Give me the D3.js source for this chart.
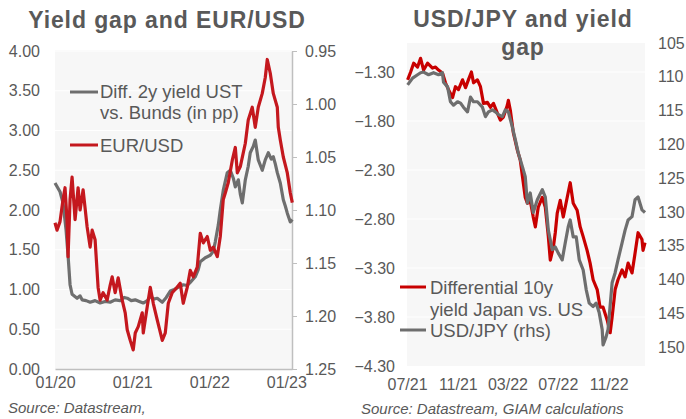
<!DOCTYPE html>
<html>
<head>
<meta charset="utf-8">
<script src="https://cdn.jsdelivr.net/npm/d3@7"></script>
<style>
	body { margin: 0; background: #fff; }
	text { font-family: "Liberation Sans", Arial, sans-serif; fill: #595959; }
	.title { font-weight: bold; font-size: 23px; letter-spacing: 0.9px; }
	.tick-label { font-size: 16px; }
	.legend { font-size: 18.5px; }
	.source { font-size: 15px; font-style: italic; }
</style>
</head>
<body>
<div id="chart"></div>
<script>
// Data - dates as decimal years
var gapDates = [2020.000, 2020.065, 2020.104, 2020.143, 2020.169, 2020.195, 2020.221, 2020.286, 2020.325, 2020.351,
	2020.403, 2020.455, 2020.519, 2020.584, 2020.649, 2020.714, 2020.779, 2020.844, 2020.896, 2020.935,
	2020.987, 2021.039, 2021.091, 2021.143, 2021.195, 2021.234, 2021.286, 2021.325, 2021.390, 2021.442,
	2021.494, 2021.545, 2021.584, 2021.662, 2021.714, 2021.753, 2021.818, 2021.857, 2021.883, 2021.948,
	2022.013, 2022.052, 2022.078, 2022.117, 2022.143, 2022.182, 2022.234, 2022.273, 2022.312, 2022.338,
	2022.377, 2022.403, 2022.429, 2022.468, 2022.506, 2022.532, 2022.571, 2022.597, 2022.636, 2022.688,
	2022.727, 2022.766, 2022.805, 2022.831, 2022.857, 2022.883, 2022.922, 2022.961, 2022.987, 2023.013,
	2023.052, 2023.078];
var gapValues = [2.34, 2.23, 2.09, 1.75, 1.43, 1.06, 0.94, 0.89, 0.92, 0.87,
	0.86, 0.84, 0.86, 0.83, 0.85, 0.84, 0.87, 0.86, 0.90, 0.89,
	0.86, 0.87, 0.85, 0.83, 0.86, 0.91, 0.88, 0.89, 0.84, 0.90,
	0.98, 1.00, 1.02, 1.06, 1.05, 1.09, 1.16, 1.25, 1.35, 1.40,
	1.43, 1.48, 1.60, 1.81, 2.00, 2.25, 2.47, 2.50, 2.40, 2.29,
	2.38, 2.20, 2.09, 2.38, 2.55, 2.72, 2.80, 2.88, 2.63, 2.50,
	2.63, 2.72, 2.64, 2.67, 2.58, 2.47, 2.34, 2.13, 2.05, 1.96,
	1.85, 1.88];

var eurDates = [2020.000, 2020.026, 2020.065, 2020.104, 2020.130, 2020.156, 2020.169, 2020.195, 2020.221, 2020.260,
	2020.299, 2020.325, 2020.364, 2020.416, 2020.455, 2020.481, 2020.519, 2020.558, 2020.584, 2020.623,
	2020.675, 2020.714, 2020.740, 2020.779, 2020.818, 2020.870, 2020.909, 2020.935, 2020.974, 2021.013,
	2021.039, 2021.078, 2021.130, 2021.143, 2021.195, 2021.234, 2021.273, 2021.325, 2021.390, 2021.429,
	2021.468, 2021.519, 2021.558, 2021.623, 2021.662, 2021.714, 2021.753, 2021.792, 2021.844, 2021.883,
	2021.922, 2021.974, 2022.013, 2022.052, 2022.104, 2022.143, 2022.182, 2022.208, 2022.247, 2022.299,
	2022.338, 2022.364, 2022.403, 2022.468, 2022.506, 2022.558, 2022.597, 2022.636, 2022.688, 2022.727,
	2022.753, 2022.792, 2022.831, 2022.883, 2022.896, 2022.922, 2022.961, 2023.013, 2023.052, 2023.078];
var eurValues = [1.112, 1.119, 1.111, 1.090, 1.079, 1.110, 1.144, 1.090, 1.069, 1.109,
	1.079, 1.100, 1.081, 1.116, 1.135, 1.119, 1.128, 1.173, 1.185, 1.178,
	1.185, 1.171, 1.163, 1.178, 1.164, 1.185, 1.197, 1.213, 1.223, 1.232,
	1.216, 1.210, 1.197, 1.216, 1.191, 1.173, 1.188, 1.204, 1.223, 1.216,
	1.188, 1.178, 1.175, 1.169, 1.188, 1.173, 1.157, 1.163, 1.154, 1.122,
	1.131, 1.125, 1.138, 1.135, 1.144, 1.125, 1.090, 1.084, 1.074, 1.053,
	1.041, 1.065, 1.059, 1.037, 1.015, 1.003, 1.022, 1.003, 0.990, 0.975,
	0.958, 0.971, 0.990, 1.003, 1.022, 1.034, 1.050, 1.065, 1.084, 1.093];

var jpDiffDates = [2021.500, 2021.520, 2021.540, 2021.566, 2021.586, 2021.606, 2021.632, 2021.665, 2021.685, 2021.705,
	2021.731, 2021.751, 2021.771, 2021.798, 2021.817, 2021.837, 2021.864, 2021.884, 2021.903, 2021.923,
	2021.937, 2021.963, 2021.983, 2022.003, 2022.029, 2022.049, 2022.069, 2022.095, 2022.115, 2022.135,
	2022.161, 2022.168, 2022.181, 2022.201, 2022.228, 2022.247, 2022.267, 2022.280, 2022.294, 2022.313,
	2022.333, 2022.347, 2022.366, 2022.393, 2022.413, 2022.433, 2022.446, 2022.466, 2022.479, 2022.492,
	2022.512, 2022.532, 2022.558, 2022.578, 2022.598, 2022.624, 2022.644, 2022.664, 2022.690, 2022.710,
	2022.730, 2022.757, 2022.776, 2022.796, 2022.823, 2022.843, 2022.856, 2022.876, 2022.895, 2022.922,
	2022.942, 2022.962, 2022.988, 2023.008, 2023.028, 2023.054, 2023.061, 2023.074];
var jpDiffValues = [-1.38, -1.30, -1.21, -1.25, -1.16, -1.28, -1.21, -1.26, -1.25, -1.28,
	-1.31, -1.41, -1.48, -1.56, -1.45, -1.48, -1.38, -1.46, -1.38, -1.30,
	-1.41, -1.38, -1.45, -1.62, -1.61, -1.66, -1.62, -1.72, -1.79, -1.76,
	-1.64, -1.59, -1.69, -1.92, -2.10, -2.20, -2.43, -2.58, -2.64, -2.61,
	-2.78, -2.88, -2.68, -2.58, -2.68, -2.98, -3.22, -3.09, -2.94, -2.74,
	-2.61, -2.78, -2.58, -2.43, -2.64, -2.71, -2.88, -2.98, -3.12, -3.25,
	-3.42, -3.52, -3.70, -3.70, -3.83, -3.96, -3.80, -3.52, -3.42, -3.32,
	-3.39, -3.25, -3.35, -3.15, -2.94, -3.01, -3.12, -3.04];

var jpyDates = [2021.500, 2021.533, 2021.566, 2021.586, 2021.606, 2021.639, 2021.672, 2021.705, 2021.731, 2021.738,
	2021.765, 2021.784, 2021.804, 2021.831, 2021.851, 2021.870, 2021.897, 2021.917, 2021.937, 2021.963,
	2021.996, 2022.016, 2022.036, 2022.062, 2022.082, 2022.102, 2022.128, 2022.148, 2022.168, 2022.194,
	2022.214, 2022.234, 2022.261, 2022.280, 2022.294, 2022.313, 2022.333, 2022.360, 2022.393, 2022.413,
	2022.433, 2022.459, 2022.479, 2022.499, 2022.525, 2022.545, 2022.565, 2022.578, 2022.598, 2022.618,
	2022.638, 2022.664, 2022.684, 2022.704, 2022.730, 2022.750, 2022.770, 2022.790, 2022.796, 2022.816,
	2022.829, 2022.856, 2022.876, 2022.895, 2022.922, 2022.942, 2022.962, 2022.988, 2023.008, 2023.028,
	2023.054, 2023.074];
var jpyValues = [111.2, 110.2, 109.7, 109.4, 109.3, 109.7, 109.4, 109.7, 109.4, 110.8,
	111.5, 113.7, 114.2, 113.7, 113.9, 114.5, 115.2, 113.0, 113.7, 113.7,
	114.5, 115.9, 115.2, 114.9, 115.2, 115.6, 115.9, 114.9, 115.2, 117.4,
	119.3, 121.3, 123.3, 124.8, 128.7, 127.2, 130.1, 128.2, 126.7, 127.8,
	132.7, 135.6, 135.2, 136.1, 137.1, 134.6, 132.2, 131.2, 133.7, 133.7,
	137.1, 138.6, 141.5, 143.5, 144.0, 143.5, 144.9, 147.4, 149.7, 148.5,
	147.4, 140.5, 139.0, 137.1, 134.6, 132.7, 131.2, 130.7, 128.2, 127.8,
	129.7, 130.1];

// Tick labels
var gapTicks = [0, 0.5, 1, 1.5, 2, 2.5, 3, 3.5, 4],
	eurTicks = [0.95, 1.00, 1.05, 1.10, 1.15, 1.20, 1.25],
	leftXTicks = ["2020-01-01", "2021-01-01", "2022-01-01", "2023-01-01"],
	jpDiffTicks = [-1.3, -1.8, -2.3, -2.8, -3.3, -3.8, -4.3],
	jpyTicks = [105, 110, 115, 120, 125, 130, 135, 140, 145, 150],
	rightXTicks = ["2021-07-01", "2021-11-01", "2022-03-01", "2022-07-01", "2022-11-01"];

var width = 686,
	height = 419,
	red1 = "#c4181e",
	red2 = "#c80000",
	grey = "#6e6e6e",
	svg = d3.select("#chart")
	.append("svg")
	.attr("width", width)
	.attr("height", height);

function yearToDate(t) {
	var y = Math.floor(t),
		start = new Date(y, 0, 1),
		end = new Date(y + 1, 0, 1);
	return new Date(+start + (t - y) * (end - start));
}
var parse = d3.timeParse("%Y-%m-%d");

function zip(dates, vals) {
	return dates.map(function(d, i) { return { date: yearToDate(d), v: vals[i] }; });
}

// strip d3's default font settings so the css applies
function styleAxis(g, keepDomain) {
	if (keepDomain) g.select(".domain").attr("stroke", "#bfbfbf").attr("stroke-width", 1.5);
	else g.select(".domain").remove();
	g.selectAll(".tick line").attr("stroke", "#bfbfbf");
	g.attr("font-size", null).attr("font-family", null);
	g.selectAll("text").attr("class", "tick-label").attr("fill", null);
}

// ---------- Left panel ----------
var x1 = d3.scaleTime()
	.domain([new Date(2020, 0, 1), new Date(2023, 0, 28)])
	.range([55, 292]),
	yGap = d3.scaleLinear().domain([0, 4]).range([369, 51]),
	yEur = d3.scaleLinear().domain([0.95, 1.25]).range([51, 369]);

var left = svg.append("g");
left.append("rect")
	.attr("x", 55).attr("y", 50)
	.attr("width", 237).attr("height", 319)
	.attr("fill", "#f7f7f7");

left.selectAll(".grid")
	.data(gapTicks.slice(1))
	.enter().append("line")
	.attr("x1", 55).attr("x2", 292)
	.attr("y1", function(d) { return yGap(d); })
	.attr("y2", function(d) { return yGap(d); })
	.attr("stroke", "#fff")
	.attr("stroke-width", 1.2);

left.append("g")
	.attr("transform", "translate(0,369)")
	.call(d3.axisBottom(x1).tickValues(leftXTicks.map(parse)).tickFormat(d3.timeFormat("%m/%y")).tickSize(0).tickPadding(8))
	.call(styleAxis, true);

left.append("g")
	.attr("transform", "translate(40,0)")
	.call(d3.axisLeft(yGap).tickValues(gapTicks).tickFormat(d3.format(".2f")).tickSize(0).tickPadding(0))
	.call(styleAxis, false);

left.append("g")
	.attr("transform", "translate(292,0)")
	.call(d3.axisRight(yEur).tickValues(eurTicks).tickFormat(d3.format(".2f")).tickSize(5).tickSizeOuter(0).tickPadding(8))
	.call(styleAxis, true);

var lineGap = d3.line().x(function(d) { return x1(d.date); }).y(function(d) { return yGap(d.v); }),
	lineEur = d3.line().x(function(d) { return x1(d.date); }).y(function(d) { return yEur(d.v); });

left.append("path")
	.datum(zip(gapDates, gapValues))
	.attr("d", lineGap)
	.attr("fill", "none").attr("stroke", grey).attr("stroke-width", 3.2).attr("stroke-linejoin", "round");
left.append("path")
	.datum(zip(eurDates, eurValues))
	.attr("d", lineEur)
	.attr("fill", "none").attr("stroke", red1).attr("stroke-width", 3.2).attr("stroke-linejoin", "round");

left.append("text").attr("class", "title").attr("x", 167).attr("y", 28).attr("text-anchor", "middle").text("Yield gap and EUR/USD");

// legend
left.append("line").attr("x1", 70).attr("x2", 98).attr("y1", 92).attr("y2", 92).attr("stroke", grey).attr("stroke-width", 3);
left.append("text").attr("class", "legend").attr("x", 100).attr("y", 98).text("Diff. 2y yield UST");
left.append("text").attr("class", "legend").attr("x", 100).attr("y", 119).text("vs. Bunds (in pp)");
left.append("line").attr("x1", 70).attr("x2", 98).attr("y1", 145).attr("y2", 145).attr("stroke", red1).attr("stroke-width", 3);
left.append("text").attr("class", "legend").attr("x", 100).attr("y", 152).text("EUR/USD");

left.append("text").attr("class", "source").attr("x", 8).attr("y", 413).text("Source:  Datastream,");

// ---------- Right panel ----------
var x2 = d3.scaleTime()
	.domain([new Date(2021, 6, 1), new Date(2023, 0, 28)])
	.range([407, 645]),
	yDiff = d3.scaleLinear().domain([-4.3, -1.3]).range([366, 72]),
	yJpy = d3.scaleLinear().domain([105, 150]).range([43, 347]);

var right = svg.append("g");
right.append("rect")
	.attr("x", 407).attr("y", 43)
	.attr("width", 238).attr("height", 323)
	.attr("fill", "#f7f7f7");

right.selectAll(".grid")
	.data(jpDiffTicks.slice(0, -1))
	.enter().append("line")
	.attr("x1", 407).attr("x2", 645)
	.attr("y1", function(d) { return yDiff(d); })
	.attr("y2", function(d) { return yDiff(d); })
	.attr("stroke", "#fff")
	.attr("stroke-width", 1.2);

right.append("g")
	.attr("transform", "translate(0,366)")
	.call(d3.axisBottom(x2).tickValues(rightXTicks.map(parse)).tickFormat(d3.timeFormat("%m/%y")).tickSize(0).tickPadding(13))
	.call(styleAxis, false);

right.append("g")
	.attr("transform", "translate(395,0)")
	.call(d3.axisLeft(yDiff).tickValues(jpDiffTicks).tickFormat(d3.format(".2f")).tickSize(0).tickPadding(0))
	.call(styleAxis, false);

right.append("g")
	.attr("transform", "translate(658,0)")
	.call(d3.axisRight(yJpy).tickValues(jpyTicks).tickSize(0).tickPadding(0))
	.call(styleAxis, false);

var lineDiff = d3.line().x(function(d) { return x2(d.date); }).y(function(d) { return yDiff(d.v); }),
	lineJpy = d3.line().x(function(d) { return x2(d.date); }).y(function(d) { return yJpy(d.v); });

right.append("path")
	.datum(zip(jpDiffDates, jpDiffValues))
	.attr("d", lineDiff)
	.attr("fill", "none").attr("stroke", red2).attr("stroke-width", 3.2).attr("stroke-linejoin", "round");
right.append("path")
	.datum(zip(jpyDates, jpyValues))
	.attr("d", lineJpy)
	.attr("fill", "none").attr("stroke", grey).attr("stroke-width", 3.2).attr("stroke-linejoin", "round");

right.append("text").attr("class", "title").attr("x", 523).attr("y", 27).attr("text-anchor", "middle").text("USD/JPY and yield");
right.append("text").attr("class", "title").attr("x", 523).attr("y", 55).attr("text-anchor", "middle").text("gap");

// legend
right.append("line").attr("x1", 400).attr("x2", 426).attr("y1", 287).attr("y2", 287).attr("stroke", red2).attr("stroke-width", 3);
right.append("text").attr("class", "legend").attr("x", 430).attr("y", 294).text("Differential 10y");
right.append("text").attr("class", "legend").attr("x", 430).attr("y", 316).text("yield Japan vs. US");
right.append("line").attr("x1", 400).attr("x2", 426).attr("y1", 330).attr("y2", 330).attr("stroke", grey).attr("stroke-width", 3);
right.append("text").attr("class", "legend").attr("x", 430).attr("y", 337).text("USD/JPY (rhs)");

right.append("text").attr("class", "source").attr("x", 361).attr("y", 414).text("Source:  Datastream,  GIAM calculations");
</script>
</body>
</html>
